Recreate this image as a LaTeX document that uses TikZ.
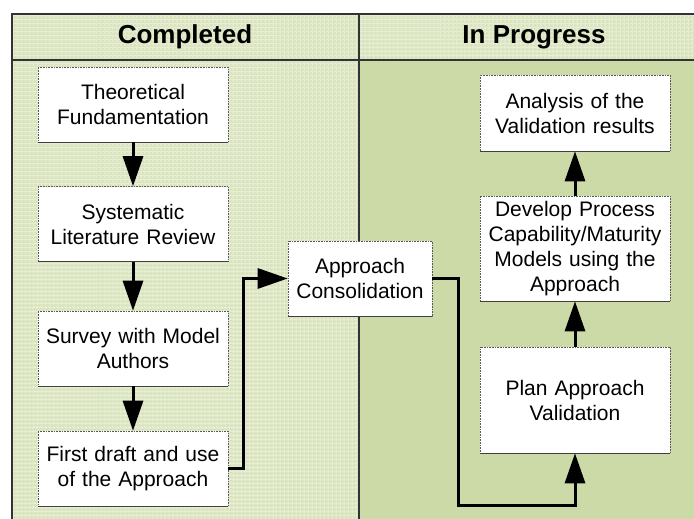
\documentclass[tikz,border=0pt]{standalone}
\usepackage{fontspec}
\setmainfont{Liberation Sans}
\usetikzlibrary{arrows.meta,patterns.meta}
\definecolor{lightbg}{HTML}{D9E4BE}
\definecolor{gridln}{HTML}{E7EED4}
\definecolor{darkbg}{HTML}{CCDAA8}
\definecolor{framec}{HTML}{333333}
\tikzset{
  stepbox/.style={draw=black!65, densely dotted, line width=0.6pt, fill=white,
    inner sep=2pt, align=center, text width=#1,
    font=\fontsize{21}{25}\selectfont},
  stepbox/.default=186pt,
  arr/.style={line width=3pt, -{Triangle[length=30pt,width=20pt]}, black},
  hdr/.style={font=\fontsize{26}{30}\selectfont\bfseries},
  frame/.style={draw=framec, line width=1.6pt},
  gridfill/.style={fill=lightbg, postaction={pattern={Lines[angle=0,distance=4pt,line width=1.1pt]}, pattern color=gridln},
    postaction={pattern={Lines[angle=90,distance=4pt,line width=1.1pt]}, pattern color=gridln}}
}
\begin{document}
\begin{tikzpicture}[x=1pt,y=-1pt]
\useasboundingbox (0,0) rectangle (694,519);
\fill[white] (0,0) rectangle (694,519);
% backgrounds
\path[gridfill] (12,14) rectangle (359,519);
\path[gridfill] (359,14) rectangle (694,60);
\fill[darkbg] (359,60) rectangle (694,519);
% frame lines
\draw[frame] (12,519) -- (12,14) -- (694,14);
\draw[frame] (12,60) -- (694,60);
\draw[frame] (359,14) -- (359,519);
% headers
\node[hdr] (hc) at (185,37) {Completed};
\node[hdr] (hp) at (534,37) {In Progress};
% left column
\node[stepbox, minimum width=190pt, minimum height=75pt] (b1) at (133,104.5) {Theoretical\\Fundamentation};
\node[stepbox, minimum width=190pt, minimum height=75pt] (b2) at (133,224) {Systematic\\Literature Review};
\node[stepbox, minimum width=190pt, minimum height=75pt] (b3) at (133,348.5) {Survey with Model\\Authors};
\node[stepbox, minimum width=190pt, minimum height=75pt] (b4) at (133,468.5) {First draft and use\\of the Approach};
% middle
\node[stepbox=140pt, minimum width=144pt, minimum height=75pt] (ac) at (360,278.5) {Approach\\Consolidation};
% right column
\node[stepbox, minimum width=190pt, minimum height=76pt] (an) at (575,113) {Analysis of the\\Validation results};
\node[stepbox, minimum width=190pt, minimum height=105pt] (dv) at (575,248.5) {Develop Process\\Capability/Maturity\\Models using the\\Approach};
\node[stepbox, minimum width=190pt, minimum height=106pt] (pv) at (575,400) {Plan Approach\\Validation};
% darker bottom edges
\foreach \n in {b1,b2,b3,b4,ac,an,dv,pv}{
  \draw[black!75, line width=1.2pt] (\n.south west) -- (\n.south east);
}
% connectors
\draw[arr] (b1) -- (b2);
\draw[arr] (b2) -- (b3);
\draw[arr] (b3) -- (b4);
\coordinate (t1) at (243,468.5);
\draw[arr] (b4.east) -- (t1) |- (ac.west);
\coordinate (t2) at (458,505);
\draw[arr] (ac.east) -| (t2) -| (pv.south);
\draw[arr] (pv) -- (dv);
\draw[arr] (dv) -- (an);
\end{tikzpicture}
\end{document}
